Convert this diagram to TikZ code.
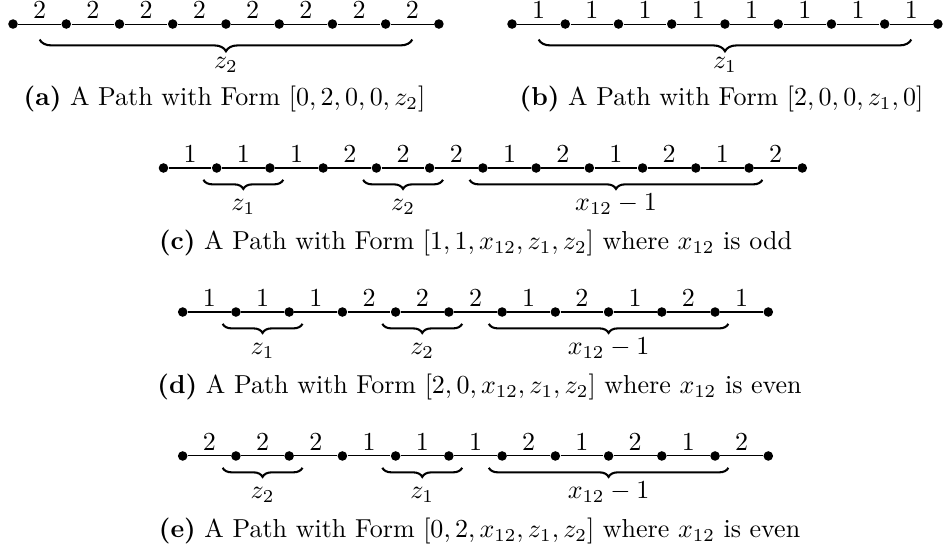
\documentclass[tikz,border=0pt]{standalone}
\usepackage{amsmath,amssymb}
\usetikzlibrary{calc,decorations.pathreplacing}
\tikzset{
  d/.style={circle,fill,inner sep=1.3pt},
  wt/.style={midway,above,inner sep=2pt},
  br/.style={decorate,decoration={brace,mirror,amplitude=#1},thick},
  br/.default=3.5pt,
  lb/.style={midway,below=#1,text height=1.5ex,text depth=.25ex},
  lb/.default=1.6pt,
}
\begin{document}
\begin{tikzpicture}
\useasboundingbox (0,0) rectangle (12.754,-7.438);
% (a)
\foreach \i in {0,...,8} \node[d] (a\i) at (0.176+0.72*\i,-0.325) {};
\foreach \i in {0,...,7} {\pgfmathtruncatemacro\j{\i+1} \draw (a\i) -- (a\j) node[wt] {2};}
\draw[br=4.5pt] ($(a0)!0.5!(a1)+(0,-0.21)$) -- ($(a7)!0.5!(a8)+(0,-0.21)$) node[lb=1pt] {$z_2$};
\node (capa) at (3.036,-1.339) {\textbf{(a)} A Path with Form $[0,2,0,0,z_2]$};
% (b)
\foreach \i in {0,...,8} \node[d] (b\i) at (6.925+0.72*\i,-0.325) {};
\foreach \i in {0,...,7} {\pgfmathtruncatemacro\j{\i+1} \draw (b\i) -- (b\j) node[wt] {1};}
\draw[br=4.5pt] ($(b0)!0.5!(b1)+(0,-0.21)$) -- ($(b7)!0.5!(b8)+(0,-0.21)$) node[lb=1pt] {$z_1$};
\node (capb) at (9.758,-1.339) {\textbf{(b)} A Path with Form $[2,0,0,z_1,0]$};
% (c)
\foreach \i in {0,...,12} \node[d] (c\i) at (2.211+0.72*\i,-2.272) {};
\foreach \w [count=\i from 0] in {1,1,1,2,2,2,1,2,1,2,1,2} {\pgfmathtruncatemacro\j{\i+1} \draw (c\i) -- (c\j) node[wt] {\w};}
\draw[br] ($(c1)+(-0.18,-0.16)$) -- ($(c2)+(0.18,-0.16)$) node[lb] {$z_1$};
\draw[br] ($(c4)+(-0.18,-0.16)$) -- ($(c5)+(0.18,-0.16)$) node[lb] {$z_2$};
\draw[br] ($(c6)+(-0.18,-0.16)$) -- ($(c11)+(0.18,-0.16)$) node[lb] {$x_{12}-1$};
\node (capc) at (6.431,-3.286) {\textbf{(c)} A Path with Form $[1,1,x_{12},z_1,z_2]$ where $x_{12}$ is odd};
% (d)
\foreach \i in {0,...,11} \node[d] (d\i) at (2.471+0.72*\i,-4.220) {};
\foreach \w [count=\i from 0] in {1,1,1,2,2,2,1,2,1,2,1} {\pgfmathtruncatemacro\j{\i+1} \draw (d\i) -- (d\j) node[wt] {\w};}
\draw[br] ($(d1)+(-0.18,-0.16)$) -- ($(d2)+(0.18,-0.16)$) node[lb] {$z_1$};
\draw[br] ($(d4)+(-0.18,-0.16)$) -- ($(d5)+(0.18,-0.16)$) node[lb] {$z_2$};
\draw[br] ($(d6)+(-0.18,-0.16)$) -- ($(d10)+(0.18,-0.16)$) node[lb] {$x_{12}-1$};
\node (capd) at (6.486,-5.234) {\textbf{(d)} A Path with Form $[2,0,x_{12},z_1,z_2]$ where $x_{12}$ is even};
% (e)
\foreach \i in {0,...,11} \node[d] (e\i) at (2.471+0.72*\i,-6.167) {};
\foreach \w [count=\i from 0] in {2,2,2,1,1,1,2,1,2,1,2} {\pgfmathtruncatemacro\j{\i+1} \draw (e\i) -- (e\j) node[wt] {\w};}
\draw[br] ($(e1)+(-0.18,-0.16)$) -- ($(e2)+(0.18,-0.16)$) node[lb] {$z_2$};
\draw[br] ($(e4)+(-0.18,-0.16)$) -- ($(e5)+(0.18,-0.16)$) node[lb] {$z_1$};
\draw[br] ($(e6)+(-0.18,-0.16)$) -- ($(e10)+(0.18,-0.16)$) node[lb] {$x_{12}-1$};
\node (cape) at (6.486,-7.181) {\textbf{(e)} A Path with Form $[0,2,x_{12},z_1,z_2]$ where $x_{12}$ is even};
\end{tikzpicture}
\end{document}
